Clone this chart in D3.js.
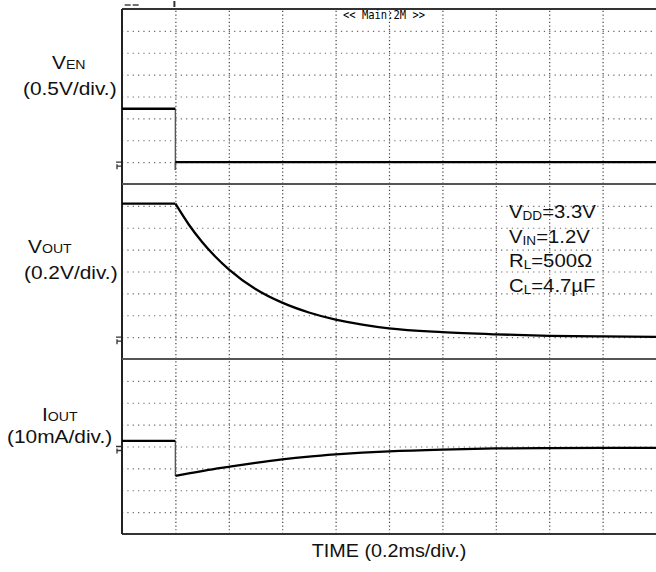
<!DOCTYPE html>
<html>
<head>
<meta charset="utf-8">
<script src="https://cdn.jsdelivr.net/npm/d3@7"></script>
<style>
body { margin: 0; background: #fff; }
svg { display: block; font-family: "Liberation Sans", Arial, sans-serif; }
</style>
</head>
<body>
<div id="scope"></div>
<script>
// time in ms, 0.2 ms/div
var timeTicks = [0.2, 0.4, 0.6, 0.8, 1.0, 1.2, 1.4, 1.6, 1.8];

// channel 1 : VEN (V)
var venTime = [0, 0.2, 0.2, 0.2, 2.0];
var venVal  = [1.22, 1.22, -0.18, 0, 0];

// channel 2 : VOUT (V)
var voutTime = [0, 0.2, 0.2, 0.25, 0.3, 0.35, 0.4, 0.5, 0.6, 0.7, 0.8, 0.9, 1.0, 1.2, 1.4, 1.6, 1.8, 2.0];
var voutVal  = [1.22, 1.22, 1.22, 1.03, 0.87, 0.735, 0.62, 0.44, 0.315, 0.225, 0.16, 0.115, 0.08, 0.045, 0.025, 0.012, 0.006, 0.003];

// channel 3 : IOUT (mA)
var ioutTime = [0, 0.2, 0.2, 0.255, 0.31, 0.4, 0.5, 0.6, 0.7, 0.8, 0.9, 1.0, 1.2, 1.4, 1.6, 1.8, 2.0];
var ioutVal  = [2.6, 2.6, -13.4, -12.2, -11.0, -9.3, -7.5, -5.9, -4.6, -3.6, -2.8, -2.2, -1.4, -0.9, -0.7, -0.6, -0.6];

var chName  = ['V', 'V', 'I'];
var chSub   = ['EN', 'OUT', 'OUT'];
var chDiv   = ['(0.5V/div.)', '(0.2V/div.)', '(10mA/div.)'];
var chPerDiv = [0.5, 0.2, 10];
var chGround = [1, 1, 4];   // ground level, divisions above panel bottom

var condMain = ['V', 'V', 'R', 'C'];
var condSub  = ['DD', 'IN', 'L', 'L'];
var condRest = ['=3.3V', '=1.2V', '=500\u03A9', '=4.7\u00B5F'];

var headerText = '<< Main:2M >>';
var xTitle = 'TIME (0.2ms/div.)';

var left = 122, top0 = 9, plotW = 534, panelH = 175, nDivY = 8;
var bottom = top0 + 3 * panelH;
var stretch = 1.13;

var svg = d3.select('#scope').append('svg')
	.attr('width', 656)
	.attr('height', 572);

svg.append('defs').append('clipPath').attr('id', 'clip')
  .append('rect')
	.attr('x', left).attr('y', top0)
	.attr('width', plotW).attr('height', bottom - top0);

var x = d3.scaleLinear()
	.domain([0, 2.0])
	.range([left, left + plotW]);

var traces = [[venTime, venVal], [voutTime, voutVal], [ioutTime, ioutVal]];

var yScales = chPerDiv.map(function(p, i) {
	var t = top0 + i * panelH;
	return d3.scaleLinear()
		.domain([-chGround[i] * p, (nDivY - chGround[i]) * p])
		.range([t + panelH, t]);
});

// vertical grid
var vGrid = svg.append('g')
	.attr('transform', 'translate(0,' + bottom + ')')
	.call(d3.axisBottom(x).tickValues(timeTicks).tickSize(-(bottom - top0)).tickFormat(''));
vGrid.select('.domain').remove();
vGrid.selectAll('line')
	.attr('stroke', '#444')
	.attr('stroke-width', 1.2)
	.attr('stroke-dasharray', '1.2,2.45');

// horizontal grid per panel
yScales.forEach(function(y, i) {
	var vals = d3.range(1, nDivY).map(function(k) { return (k - chGround[i]) * chPerDiv[i]; });
	var g = svg.append('g')
		.attr('transform', 'translate(' + left + ',0)')
		.call(d3.axisLeft(y).tickValues(vals).tickSize(-plotW).tickFormat(''));
	g.select('.domain').remove();
	g.selectAll('line')
		.attr('stroke', '#666')
		.attr('stroke-width', 1.2)
		.attr('stroke-dasharray', '1.2,4.14');
});

// frame
svg.append('line').attr('x1', left).attr('x2', left + plotW).attr('y1', top0).attr('y2', top0)
	.attr('stroke', '#333').attr('stroke-width', 2);
svg.append('line').attr('x1', left).attr('x2', left + plotW).attr('y1', bottom).attr('y2', bottom)
	.attr('stroke', '#333').attr('stroke-width', 2);
svg.append('line').attr('x1', left).attr('x2', left).attr('y1', top0).attr('y2', bottom)
	.attr('stroke', '#222').attr('stroke-width', 2);
[1, 2].forEach(function(k) {
	var yy = top0 + k * panelH;
	svg.append('line').attr('x1', left).attr('x2', left + plotW).attr('y1', yy).attr('y2', yy)
		.attr('stroke', '#555').attr('stroke-width', 2);
});

// top markers
svg.append('line')
	.attr('x1', x(0.2) - 1).attr('x2', x(0.2) - 1).attr('y1', 1).attr('y2', 7)
	.attr('stroke', '#333').attr('stroke-width', 2);
svg.append('g').selectAll('line').data([0.01, 0.04]).enter().append('line')
	.attr('x1', function(d) { return x(d); })
	.attr('x2', function(d) { return x(d) + 6; })
	.attr('y1', 5).attr('y2', 5)
	.attr('stroke', '#444').attr('stroke-width', 1.5);

// ground markers
yScales.forEach(function(y) {
	var g0 = y(0);
	svg.append('path')
		.attr('d', 'M116,' + g0 + 'H121 M117,' + (g0 + 4) + 'H121 M117,' + (g0 + 2) + 'V' + (g0 + 7))
		.attr('fill', 'none').attr('stroke', '#333').attr('stroke-width', 1.3);
});

// header text
svg.append('text')
	.attr('x', 343).attr('y', 19)
	.attr('textLength', 82)
	.attr('lengthAdjust', 'spacingAndGlyphs')
	.style('font-family', '"DejaVu Sans Mono", monospace')
	.style('font-size', '11.5px')
	.attr('fill', '#000')
	.text(headerText);

// traces
function split(ts, vs) {
	var levels = [], edges = [], cur = [[ts[0], vs[0]]];
	for (var i = 1; i < ts.length; i++) {
		if (ts[i] === ts[i - 1]) {
			if (vs[i] !== vs[i - 1]) edges.push([[ts[i - 1], vs[i - 1]], [ts[i], vs[i]]]);
			if (cur.length > 1) levels.push(cur);
			cur = [[ts[i], vs[i]]];
		} else {
			cur.push([ts[i], vs[i]]);
		}
	}
	if (cur.length > 1) levels.push(cur);
	return {levels: levels, edges: edges};
}

var traceG = svg.append('g').attr('clip-path', 'url(#clip)');

traces.forEach(function(tr, i) {
	var y = yScales[i];
	var parts = split(tr[0], tr[1]);
	var line = d3.line()
		.x(function(d) { return x(d[0]); })
		.y(function(d) { return y(d[1]); })
		.curve(d3.curveMonotoneX);

	traceG.selectAll('.edge' + i)
		.data(parts.edges).enter().append('path')
		.attr('class', 'edge' + i)
		.attr('d', d3.line().x(function(d) { return x(d[0]); }).y(function(d) { return y(d[1]); }))
		.attr('fill', 'none')
		.attr('stroke', '#555')
		.attr('stroke-width', 1.4);

	traceG.selectAll('.lev' + i)
		.data(parts.levels).enter().append('path')
		.attr('class', 'lev' + i)
		.attr('d', line)
		.attr('fill', 'none')
		.attr('stroke', '#000')
		.attr('stroke-width', 2.3)
		.attr('stroke-linejoin', 'round');
});

// channel labels
var labPos = [[52, 69, 23, 95], [28, 253, 24, 279], [42, 421, 7, 443]];

chName.forEach(function(n, i) {
	var p = labPos[i];
	var t = svg.append('text')
		.attr('transform', 'translate(' + p[0] + ',' + p[1] + ') scale(' + stretch + ',1)')
		.attr('fill', '#111');
	t.append('tspan').style('font-size', '18.5px').text(n);
	t.append('tspan').style('font-size', '12.5px').text(chSub[i]);

	svg.append('text')
		.attr('transform', 'translate(' + p[2] + ',' + p[3] + ') scale(' + stretch + ',1)')
		.attr('fill', '#111')
		.style('font-size', '18.5px')
		.text(chDiv[i]);
});

// test conditions
var condY = d3.scalePoint().domain(d3.range(condMain.length)).range([218, 292]);

condMain.forEach(function(m, i) {
	var t = svg.append('text')
		.attr('transform', 'translate(509,' + condY(i) + ') scale(' + stretch + ',1)')
		.attr('fill', '#111');
	t.append('tspan').style('font-size', '18px').text(m);
	t.append('tspan').style('font-size', '12px').attr('dy', 2).text(condSub[i]);
	t.append('tspan').style('font-size', '18px').attr('dy', -2).text(condRest[i]);
});

// x title
svg.append('text')
	.attr('transform', 'translate(' + x(1.0) + ',557) scale(' + stretch + ',1)')
	.attr('text-anchor', 'middle')
	.attr('fill', '#111')
	.style('font-size', '17.5px')
	.text(xTitle);
</script>
</body>
</html>
